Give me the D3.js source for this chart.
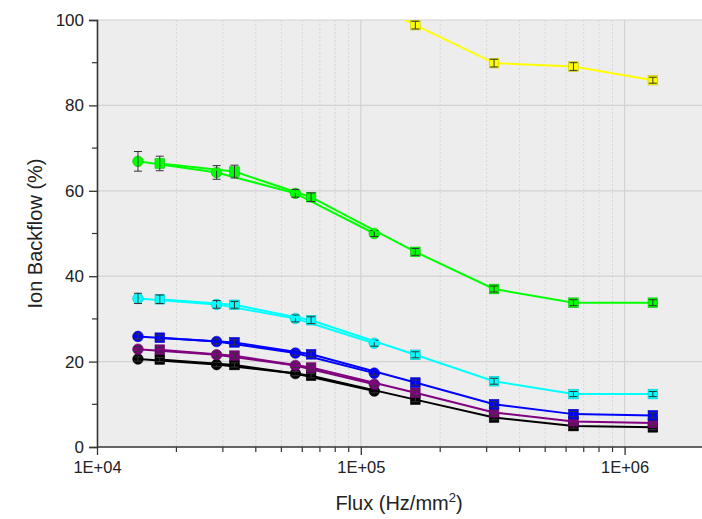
<!DOCTYPE html>
<html>
<head>
<meta charset="utf-8">
<script src="https://cdn.jsdelivr.net/npm/d3@7"></script>
<style>
	body { margin: 0; background: #fff; }
	text { font-family: "Liberation Sans", Arial, sans-serif; fill: #222; }
</style>
</head>
<body>
<svg id="chart" width="702" height="519"></svg>
<script>
// flux points (Hz/mm2): circles = one scan, squares = the other
var fluxCircle = [1.43e4, 2.84e4, 5.65e4, 1.125e5];
var fluxSquare = [1.73e4, 3.32e4, 6.48e4, 1.61e5, 3.2e5, 6.4e5, 1.28e6];

var seriesNames = ["yellow", "green", "cyan", "blue", "purple", "black"];
var seriesColors = ["#ffff00", "#00ff00", "#00ffff", "#0000ff", "#800080", "#000000"];

// ion backflow (%) for circle scans
var circleValues = [
	null,
	[66.9, 64.3, 59.4, 50.0],
	[34.8, 33.4, 30.1, 24.3],
	[25.9, 24.7, 22.0, 17.3],
	[22.9, 21.6, 19.1, 14.7],
	[20.6, 19.3, 17.2, 13.1]
];
var circleErrors = [
	null,
	[2.3, 1.6, 0.9, 0.7],
	[1.2, 0.9, 0.8, 0.7],
	[0.6, 0.6, 0.5, 0.5],
	[0.6, 0.6, 0.5, 0.5],
	[0.5, 0.5, 0.5, 0.4]
];

// ion backflow (%) for square scans
var squareValues = [
	[125, 119, 111, 98.8, 89.9, 89.1, 85.9],
	[66.4, 64.5, 58.5, 45.7, 37.0, 33.8, 33.8],
	[34.6, 33.3, 29.7, 21.6, 15.4, 12.4, 12.4],
	[25.6, 24.5, 21.7, 15.1, 10.0, 7.7, 7.4],
	[22.8, 21.4, 18.6, 12.7, 8.1, 6.0, 5.6],
	[20.5, 19.2, 16.7, 11.1, 6.9, 4.9, 4.6]
];
var squareErrors = [
	[1.0, 1.0, 1.0, 0.9, 0.9, 0.9, 0.7],
	[1.7, 1.5, 1.0, 0.8, 0.7, 0.7, 0.7],
	[1.0, 0.8, 0.8, 0.7, 0.7, 0.6, 0.6],
	[0.6, 0.6, 0.6, 0.6, 0.6, 0.6, 0.6],
	[0.6, 0.6, 0.6, 0.6, 0.6, 0.6, 0.6],
	[0.5, 0.5, 0.5, 0.5, 0.5, 0.5, 0.5]
];

var xTicks = [1e4, 1e5, 1e6];
var xTickLabels = ["1E+04", "1E+05", "1E+06"];
var yTicks = [0, 20, 40, 60, 80, 100];
var yMinorTicks = [10, 30, 50, 70, 90];

var plotLeft = 97, plotRight = 704, plotTop = 20, plotBottom = 447;

var svg = d3.select("#chart");

var x = d3.scaleLog().domain([1e4, 2e6]).range([plotLeft, plotRight]);
var y = d3.scaleLinear().domain([0, 100]).range([plotBottom, plotTop]);

// minor decade ticks 2..9
var xMinor = [];
[1e4, 1e5, 1e6].forEach(function(d){
	for(var k = 2; k <= 9; k++){
		if(d * k <= 2e6) xMinor.push(d * k);
	}
});

svg.append("defs").append("clipPath").attr("id", "clip")
	.append("rect")
	.attr("x", plotLeft).attr("y", plotTop)
	.attr("width", plotRight - plotLeft).attr("height", plotBottom - plotTop);

// plot background
svg.append("rect")
	.attr("x", plotLeft).attr("y", plotTop)
	.attr("width", plotRight - plotLeft).attr("height", plotBottom - plotTop)
	.style("fill", "#ededed");

var grid = svg.append("g");

grid.selectAll("line.minor")
	.data(xMinor)
	.enter().append("line")
	.attr("class", "minor")
	.attr("x1", function(d){ return x(d); })
	.attr("x2", function(d){ return x(d); })
	.attr("y1", plotTop).attr("y2", plotBottom)
	.style("stroke", "#d6d6d6")
	.style("stroke-width", 1)
	.style("stroke-dasharray", "2,2");

grid.selectAll("line.xmajor")
	.data(xTicks.slice(1))
	.enter().append("line")
	.attr("class", "xmajor")
	.attr("x1", function(d){ return x(d); })
	.attr("x2", function(d){ return x(d); })
	.attr("y1", plotTop).attr("y2", plotBottom)
	.style("stroke", "#d2d2d2")
	.style("stroke-width", 1.2);

grid.selectAll("line.ymajor")
	.data(yTicks.slice(1))
	.enter().append("line")
	.attr("class", "ymajor")
	.attr("x1", plotLeft).attr("x2", plotRight)
	.attr("y1", function(d){ return y(d); })
	.attr("y2", function(d){ return y(d); })
	.style("stroke", "#d2d2d2")
	.style("stroke-width", 1.2);

var plot = svg.append("g").attr("clip-path", "url(#clip)");

var line = d3.line()
	.defined(function(d){ return d[1] != null; })
	.x(function(d){ return x(d[0]); })
	.y(function(d){ return y(d[1]); });

function buildPoints(flux, vals, errs){
	return flux.map(function(f, i){
		return [f, vals[i], errs[i]];
	});
}

function drawSeries(color, pts, shape){
	plot.append("path")
		.datum(pts)
		.attr("d", line)
		.style("fill", "none")
		.style("stroke", color)
		.style("stroke-width", 2);

	if(shape == "circle"){
		plot.selectAll(null)
			.data(pts)
			.enter().append("circle")
			.attr("cx", function(d){ return x(d[0]); })
			.attr("cy", function(d){ return y(d[1]); })
			.attr("r", 5.3)
			.style("fill", color)
			.style("stroke", d3.color(color).darker(0.8))
			.style("stroke-width", 0.6);
	} else {
		plot.selectAll(null)
			.data(pts)
			.enter().append("rect")
			.attr("x", function(d){ return x(d[0]) - 4.8; })
			.attr("y", function(d){ return y(d[1]) - 4.8; })
			.attr("width", 9.6)
			.attr("height", 9.6)
			.style("fill", color)
			.style("stroke", d3.color(color).darker(0.8))
			.style("stroke-width", 0.6);
	}

	// error bars on top of markers
	var eb = plot.selectAll(null)
		.data(pts)
		.enter().append("g")
		.style("stroke", "#333")
		.style("stroke-width", 1);
	eb.append("line")
		.attr("x1", function(d){ return x(d[0]); })
		.attr("x2", function(d){ return x(d[0]); })
		.attr("y1", function(d){ return y(d[1] + d[2]); })
		.attr("y2", function(d){ return y(d[1] - d[2]); });
	eb.append("line")
		.attr("x1", function(d){ return x(d[0]) - 4; })
		.attr("x2", function(d){ return x(d[0]) + 4; })
		.attr("y1", function(d){ return y(d[1] + d[2]); })
		.attr("y2", function(d){ return y(d[1] + d[2]); });
	eb.append("line")
		.attr("x1", function(d){ return x(d[0]) - 4; })
		.attr("x2", function(d){ return x(d[0]) + 4; })
		.attr("y1", function(d){ return y(d[1] - d[2]); })
		.attr("y2", function(d){ return y(d[1] - d[2]); });
}

for(var s = seriesNames.length - 1; s >= 0; s--){
	if(circleValues[s]){
		drawSeries(seriesColors[s], buildPoints(fluxCircle, circleValues[s], circleErrors[s]), "circle");
	}
	drawSeries(seriesColors[s], buildPoints(fluxSquare, squareValues[s], squareErrors[s]), "square");
}

// axes
var xAxis = d3.axisBottom(x)
	.tickValues(xTicks)
	.tickFormat(function(d, i){ return xTickLabels[i]; })
	.tickSize(8)
	.tickPadding(6);

var gx = svg.append("g")
	.attr("transform", "translate(0," + plotBottom + ")")
	.call(xAxis);
gx.select(".domain").attr("d", "M" + plotLeft + ",0H" + plotRight);
gx.selectAll(".tick line").style("stroke", "#333").style("stroke-width", 1.3);
gx.selectAll(".tick text").style("font-size", "16.5px").style("fill", "#222")
	.style("font-family", "'Liberation Sans', Arial, sans-serif");

gx.selectAll("line.minor-tick")
	.data(xMinor)
	.enter().append("line")
	.attr("class", "minor-tick")
	.attr("x1", function(d){ return x(d); })
	.attr("x2", function(d){ return x(d); })
	.attr("y1", 0).attr("y2", 5)
	.style("stroke", "#333")
	.style("stroke-width", 1.2);

var yAxis = d3.axisLeft(y)
	.tickValues(yTicks)
	.tickSize(8)
	.tickPadding(5);

var gy = svg.append("g")
	.attr("transform", "translate(" + plotLeft + ",0)")
	.call(yAxis);
gy.selectAll(".tick line").style("stroke", "#333").style("stroke-width", 1.3);
gy.selectAll(".tick text").style("font-size", "17px").style("fill", "#222")
	.style("font-family", "'Liberation Sans', Arial, sans-serif");

gy.selectAll("line.minor-tick")
	.data(yMinorTicks)
	.enter().append("line")
	.attr("class", "minor-tick")
	.attr("x1", -5).attr("x2", 0)
	.attr("y1", function(d){ return y(d); })
	.attr("y2", function(d){ return y(d); })
	.style("stroke", "#333")
	.style("stroke-width", 1.2);

[gx, gy].forEach(function(g){
	g.select(".domain").style("stroke", "#333").style("stroke-width", 1.6);
});

// axis titles
var xt = svg.append("text")
	.attr("x", 399)
	.attr("y", 510)
	.attr("text-anchor", "middle")
	.style("font-size", "20px");
xt.append("tspan").text("Flux (Hz/mm");
xt.append("tspan").attr("dy", -8).style("font-size", "13px").text("2");
xt.append("tspan").attr("dy", 8).text(")");

svg.append("text")
	.attr("transform", "translate(42," + ((plotTop + plotBottom) / 2) + ") rotate(-90)")
	.attr("text-anchor", "middle")
	.style("font-size", "20px")
	.text("Ion Backflow (%)");
</script>
</body>
</html>
